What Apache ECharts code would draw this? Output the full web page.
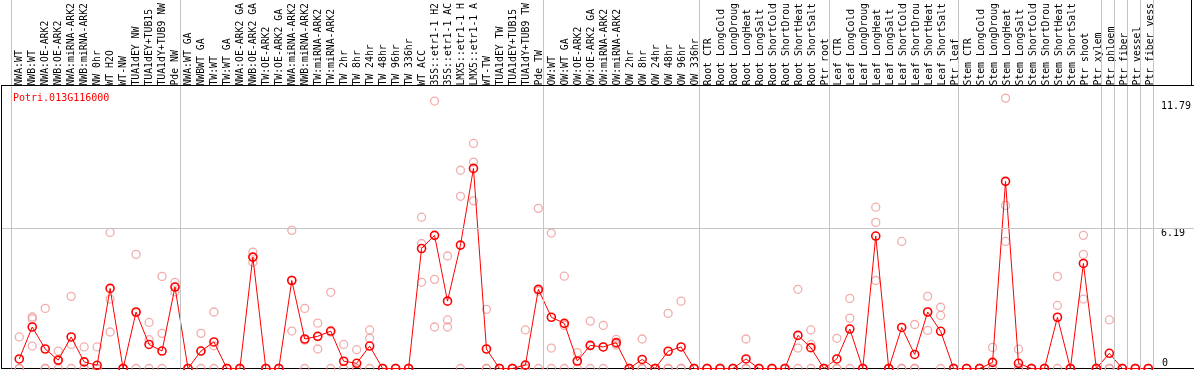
<!DOCTYPE html>
<html>
<head>
<meta charset="utf-8">
<script src="https://cdn.jsdelivr.net/npm/echarts@6/dist/echarts.min.js"></script>
<style>
html,body{margin:0;padding:0;background:#fff;}
#chart{width:1194px;height:370px;}
</style>
</head>
<body>
<div id="chart"></div>
<script>
const geneName = 'Potri.013G116000';

const categories = [
  'NWA:WT','NWB:WT','NWA:OE-ARK2','NWB:OE-ARK2','NWA:miRNA-ARK2','NWB:miRNA-ARK2','NW 0hr','WT H2O','WT-NW','TUA1dEY NW',
  'TUA1dEY+TUB15','TUA1dY+TUB9 NW','Pde NW','NWA:WT GA','NWBWT GA','TW:WT','TW:WT GA','NWA:OE-ARK2 GA','NWB:OE-ARK2 GA','TW:OE-ARK2',
  'TW:OE-ARK2 GA','NWA:miRNA-ARK2','NWB:miRNA-ARK2','TW:miRNA-ARK2','TW:miRNA-ARK2','TW 2hr','TW 8hr','TW 24hr','TW 48hr','TW 96hr',
  'TW 336hr','WT ACC','35S::etr1-1 H2','35S::etr1-1 AC','LMX5::etr1-1 H','LMX5::etr1-1 A','WT-TW','TUA1dEY TW','TUA1dEY+TUB15','TUA1dY+TUB9 TW',
  'Pde TW','OW:WT','OW:WT GA','OW:OE-ARK2','OW:OE-ARK2 GA','OW:miRNA-ARK2','OW:miRNA-ARK2','OW 2hr','OW 8hr','OW 24hr',
  'OW 48hr','OW 96hr','OW 336hr','Root CTR','Root LongCold','Root LongDroug','Root LongHeat','Root LongSalt','Root ShortCold','Root ShortDrou',
  'Root ShortHeat','Root ShortSalt','Ptr root','Leaf CTR','Leaf LongCold','Leaf LongDroug','Leaf LongHeat','Leaf LongSalt','Leaf ShortCold','Leaf ShortDrou',
  'Leaf ShortHeat','Leaf ShortSalt','Ptr leaf','Stem CTR','Stem LongCold','Stem LongDroug','Stem LongHeat','Stem LongSalt','Stem ShortCold','Stem ShortDrou',
  'Stem ShortHeat','Stem ShortSalt','Ptr shoot','Ptr xylem','Ptr phloem','Ptr fiber','Ptr vessel','Ptr fiber vess'
];

const meanValues = [
  0.42,1.83,0.86,0.37,1.39,0.29,0.14,3.53,0,2.49,
  1.06,0.77,3.59,0,0.77,1.17,0,0,4.91,0,
  0,3.88,1.30,1.42,1.65,0.32,0.23,0.99,0,0,
  0,5.29,5.87,2.97,5.44,8.82,0.86,0,0,0.15,
  3.49,2.26,1.99,0.33,1.02,0.95,1.14,0,0.40,0,
  0.76,0.95,0,0,0,0,0.42,0,0,0,
  1.46,0.92,0,0.42,1.74,0,5.84,0,1.81,0.62,
  2.49,1.64,0,0,0,0.27,8.25,0.23,0,0,
  2.26,0,4.63,0,0.67,0,0,0
];

const replicate1 = [
  1.39,2.27,2.65,0.77,3.18,0.95,0.95,6.00,0,5.03,
  2.03,4.06,3.80,0,1.55,2.49,0,0,5.13,0,
  0,6.09,2.65,2.00,3.36,1.06,0.83,1.70,0,0,
  0,6.67,11.79,4.96,8.74,9.92,2.61,0,0,1.70,
  7.06,5.97,4.07,0.70,2.09,1.90,1.28,0,1.30,0,
  2.43,2.97,0,0,0,0,1.30,0,0,0,
  3.49,1.70,0,1.33,3.09,0,7.11,0,5.60,1.94,
  3.18,2.70,0,0,0,0.93,11.92,0.85,0,0,
  4.06,0,5.87,0,2.14,0,0,0
];

const replicate2 = [
  0,2.19,0,0.34,1.06,0,0,3.06,0,2.45,
  1.27,1.55,3.60,0,0.77,1.00,0,0,4.91,0,
  0,3.90,1.25,1.40,1.60,0,0,1.33,0,0,
  0,5.51,3.93,2.14,7.59,9.10,0,0,0,0,
  3.41,0.90,1.90,0.30,1.00,0.95,1.10,0,0,0,
  0,0,0,0,0,0,0,0,0,0,
  0.90,1.06,0,0,2.22,0,6.44,0,0,0,
  2.50,2.34,0,0,0,0,7.19,0,0,0,
  2.78,0,5.03,0,0,0,0,0
];

const replicate3 = [
  0,0.99,0,0,0,0,0,1.61,0,0,
  0,0,3.38,0,0,0,0,0,4.68,0,
  0,1.65,0,0.86,0,0,0,0,0,0,
  0,3.80,1.83,1.83,0,7.39,0,0,0,0,
  0,0,0,0,0,0,1.04,0,0,0,
  0,0,0,0,0,0,0,0,0,0,
  0,0,0,0,0,0,3.88,0,0,0,
  1.68,0,0,0,0,0,5.60,0,0,0,
  0,0,3.06,0,0,0,0,0
];

const rightTickLabels = [11.79, 6.19, 0];
const gridLineValue = 6.19;
// index of the last category in each group (vertical separators drawn after them)
const groupEnds = [-1, 12, 40, 52, 62, 72, 83, 84, 85, 86, 87];

// ---- layout ----
const W = 1194, H = 370;
const CELL = 13;          // px per category
const FIRST_X = 19.3;     // px centre of the first category
const PLOT_LEFT = 1.5;
const PLOT_RIGHT = 1196;
const ZERO_Y = 368.5;
const TOP_Y = 85;
const SEP_OFFSET = 0.385;

const yTop = rightTickLabels[0] * 1.06;
const yFull = yTop * ZERO_Y / (ZERO_Y - TOP_Y);
const xMin = (PLOT_LEFT - FIRST_X) / CELL;
const xMax = xMin + (PLOT_RIGHT - PLOT_LEFT) / CELL;
const xHeaderRight = xMin + (1193.5 - PLOT_LEFT) / CELL;

const RED = '#ff0000';
const PINK = '#ee9999';
const GRAY = '#c4c4c4';
const MONO = 'DejaVu Sans Mono';

const repData = [];
[replicate1, replicate2, replicate3].forEach(arr => {
  arr.forEach((v, i) => repData.push([i, v]));
});

const markData = [];
groupEnds.forEach(b => markData.push({ xAxis: b + SEP_OFFSET, lineStyle: { color: GRAY, width: 1, type: 'solid' } }));
markData.push({ yAxis: gridLineValue, lineStyle: { color: GRAY, width: 1, type: 'solid' } });
markData.push({ yAxis: yTop, lineStyle: { color: '#000', width: 1, type: 'solid' } });
markData.push([{ coord: [xMin, 0], lineStyle: { color: '#000', width: 1, type: 'solid' } }, { coord: [xMin, yTop] }]);
markData.push([{ coord: [xHeaderRight, yTop], lineStyle: { color: '#000', width: 1, type: 'solid' } }, { coord: [xHeaderRight, yFull] }]);

const chart = echarts.init(document.getElementById('chart'), null, { renderer: 'canvas' });
chart.setOption({
  animation: false,
  backgroundColor: '#fff',
  title: {
    text: geneName,
    left: 8,
    top: 88,
    textStyle: { color: RED, fontSize: 10, fontWeight: 'normal', fontFamily: MONO }
  },
  grid: [
    { left: PLOT_LEFT, right: W - PLOT_RIGHT, top: 0, bottom: H - ZERO_Y, containLabel: false },
    { left: FIRST_X - CELL / 2, width: CELL * categories.length, top: TOP_Y, bottom: H - ZERO_Y, containLabel: false }
  ],
  xAxis: [
    {
      type: 'value', gridIndex: 0, min: xMin, max: xMax, position: 'bottom',
      axisLine: { show: true, onZero: false, lineStyle: { color: '#000', width: 1 } },
      axisTick: { show: false }, axisLabel: { show: false }, splitLine: { show: false }
    },
    {
      type: 'category', gridIndex: 1, data: categories, position: 'top', boundaryGap: true,
      axisLine: { show: false }, axisTick: { show: false }, splitLine: { show: false },
      axisLabel: { interval: 0, rotate: 90, margin: 3, fontSize: 9.8, fontFamily: MONO, color: '#000' }
    }
  ],
  yAxis: [
    { type: 'value', gridIndex: 0, min: 0, max: yFull, show: false },
    {
      type: 'value', gridIndex: 0, min: 0, max: yFull, position: 'right',
      axisLine: { show: false }, axisTick: { show: false }, splitLine: { show: false },
      axisLabel: {
        inside: true, customValues: rightTickLabels.filter(v => v > 0), align: 'left', verticalAlign: 'top',
        margin: PLOT_RIGHT - 1163, fontSize: 10, fontFamily: MONO, color: '#000',
        formatter: v => String(v)
      }
    },
    {
      type: 'value', gridIndex: 0, min: 0, max: yFull, position: 'right',
      axisLine: { show: false }, axisTick: { show: false }, splitLine: { show: false },
      axisLabel: {
        inside: true, customValues: rightTickLabels.filter(v => v === 0), align: 'left', verticalAlign: 'bottom',
        margin: PLOT_RIGHT - 1164, fontSize: 10, fontFamily: MONO, color: '#000',
        formatter: v => String(v)
      }
    },
    { type: 'value', gridIndex: 1, show: false, min: 0, max: 1 }
  ],
  series: [
    {
      type: 'scatter', name: 'replicates', xAxisIndex: 0, yAxisIndex: 0,
      data: repData, symbol: 'circle', symbolSize: 8, clip: false,
      itemStyle: { color: 'rgba(0,0,0,0)', borderColor: PINK, borderWidth: 1.3 },
      markLine: { silent: true, symbol: 'none', label: { show: false }, animation: false, data: markData },
      z: 2
    },
    {
      type: 'line', name: 'mean', xAxisIndex: 0, yAxisIndex: 0,
      data: meanValues.map((v, i) => [i, v]), symbol: 'circle', symbolSize: 8, clip: false,
      itemStyle: { color: 'rgba(0,0,0,0)', borderColor: RED, borderWidth: 1.6 },
      lineStyle: { color: RED, width: 1 },
      z: 3
    }
  ]
});
</script>
</body>
</html>
